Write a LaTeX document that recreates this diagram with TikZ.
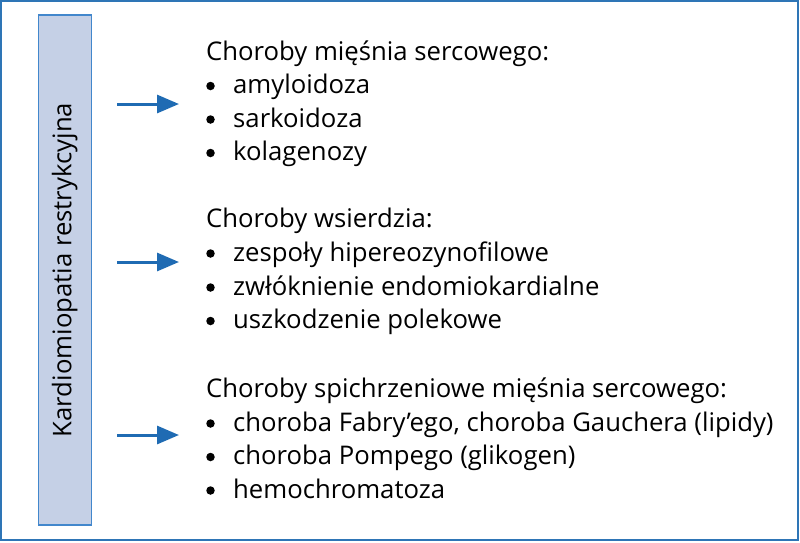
\documentclass[tikz,border=0pt]{standalone}
\usepackage{fontspec}
\setmainfont{Open Sans}
\usetikzlibrary{arrows.meta}
\definecolor{frameblue}{HTML}{2E75B6}
\definecolor{arrowblue}{HTML}{1F6BB3}
\definecolor{boxfill}{HTML}{C5D0E6}
\definecolor{boxline}{HTML}{4287CC}
\tikzset{
  txt/.style={anchor=base west, inner sep=0pt, font=\fontsize{25.7}{30}\selectfont, text=black},
  bul/.style={circle, fill=black, inner sep=0pt, minimum size=8.5pt},
  conn/.style={draw=arrowblue, line width=3pt, -{Triangle[length=22pt,width=18pt]}},
}
\begin{document}
\begin{tikzpicture}[x=1pt,y=-1pt]
\useasboundingbox (0,0) rectangle (800,542);
\draw[frameblue, line width=2pt] (1,1) rectangle (798,540);
\node[draw=boxline, line width=1.5pt, fill=boxfill, minimum width=53pt, minimum height=510pt, inner sep=0pt] (side) at (64.8,270) {};
\node[rotate=90, inner sep=0pt, font=\fontsize{25.7}{30}\selectfont] (sidet) at (side.center) {Kardiomiopatia restrykcyjna};
% group 1
\node[txt] (h1) at (206,60) {Choroby mięśnia sercowego:};
\node[txt] (a1) at (233,93.5) {amyloidoza};
\node[txt] (a2) at (233,127) {sarkoidoza};
\node[txt] (a3) at (233,160.5) {kolagenozy};
\node[bul] (b11) at (210.5,86) {};
\node[bul] (b12) at (210.5,119.5) {};
\node[bul] (b13) at (210.5,153) {};
% group 2
\node[txt] (h2) at (206,227) {Choroby wsierdzia:};
\node[txt] (c1) at (233,261) {zespoły hipereozynofilowe};
\node[txt] (c2) at (233,295) {zwłóknienie endomiokardialne};
\node[txt] (c3) at (233,328.5) {uszkodzenie polekowe};
\node[bul] (b21) at (210.5,253.5) {};
\node[bul] (b22) at (210.5,287.5) {};
\node[bul] (b23) at (210.5,321) {};
% group 3
\node[txt] (h3) at (206,397) {Choroby spichrzeniowe mięśnia sercowego:};
\node[txt] (d1) at (233,431) {choroba Fabry’ego, choroba Gauchera (lipidy)};
\node[txt] (d2) at (233,464.5) {choroba Pompego (glikogen)};
\node[txt] (d3) at (233,498) {hemochromatoza};
\node[bul] (b31) at (210.5,423.5) {};
\node[bul] (b32) at (210.5,457) {};
\node[bul] (b33) at (210.5,490.5) {};
% arrows
\coordinate (s1) at (117,104); \coordinate (e1) at (179,104);
\coordinate (s2) at (117,262); \coordinate (e2) at (179,262);
\coordinate (s3) at (117,435); \coordinate (e3) at (179,435);
\draw[conn] (s1) -- (e1);
\draw[conn] (s2) -- (e2);
\draw[conn] (s3) -- (e3);
\end{tikzpicture}
\end{document}
